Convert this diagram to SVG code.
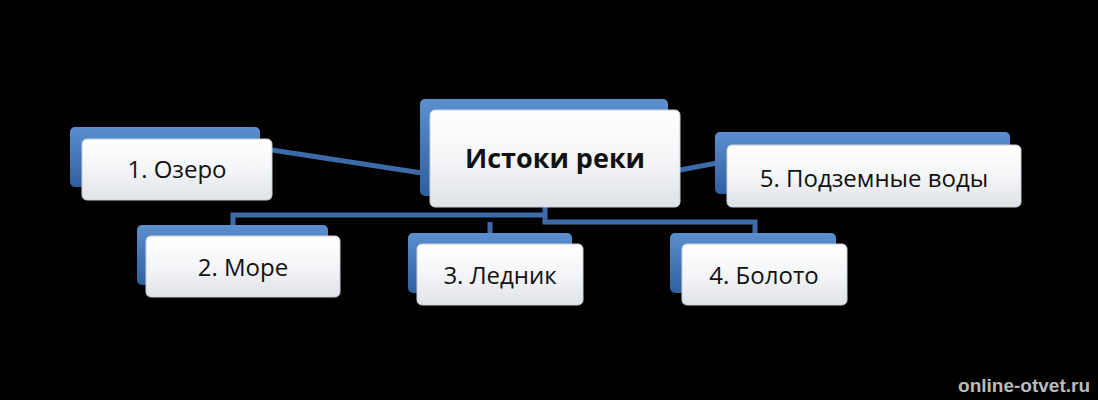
<svg xmlns="http://www.w3.org/2000/svg" width="1098" height="400" viewBox="0 0 1098 400">
<defs>
<linearGradient id="w" x1="0" y1="0" x2="0" y2="1"><stop offset="0" stop-color="#ffffff"/><stop offset="0.5" stop-color="#f4f5f7"/><stop offset="1" stop-color="#dfe2e8"/></linearGradient>
<linearGradient id="b" x1="0" y1="0" x2="0" y2="1"><stop offset="0" stop-color="#5b8fd0"/><stop offset="1" stop-color="#2f5f9e"/></linearGradient>
</defs>
<style>
.back{fill:url(#b)}
.front{fill:url(#w);stroke:#c9ced6;stroke-width:1}
.t{font-family:"Open Sans","Noto Sans",sans-serif;font-size:24px;fill:#111;text-anchor:middle}
.c{stroke:#3d6aa8;stroke-width:5;fill:none}
</style>
<rect width="1098" height="400" fill="#000"/>
<g id="connectors">
<line class="c" x1="272" y1="150" x2="422" y2="173"/>
<line class="c" x1="680" y1="170" x2="717" y2="163"/>
<polyline class="c" points="545,207 545,215 233,215 233,227"/>
<polyline class="c" points="545,215 545,222 755,222 755,235"/>
<polyline class="c" points="490,222 490,235"/>
</g>
<g id="center">
<rect class="back" x="420" y="99" width="248" height="97" rx="5"/>
<rect class="front" x="430" y="110" width="250" height="97" rx="5"/>
<text class="t" x="555" y="168" style="font-weight:bold;font-size:27px">Истоки реки</text>
</g>
<g id="n1">
<rect class="back" x="70" y="127" width="190" height="60" rx="5"/>
<rect class="front" x="82" y="139" width="190" height="61" rx="5"/>
<text class="t" x="177" y="178">1. Озеро</text>
</g>
<g id="n2">
<rect class="back" x="137" y="225" width="191" height="60" rx="5"/>
<rect class="front" x="146" y="236" width="194" height="61" rx="5"/>
<text class="t" x="243" y="276">2. Море</text>
</g>
<g id="n3">
<rect class="back" x="408" y="233" width="164" height="60" rx="5"/>
<rect class="front" x="417" y="244" width="166" height="61" rx="5"/>
<text class="t" x="500" y="284">3. Ледник</text>
</g>
<g id="n4">
<rect class="back" x="670" y="233" width="166" height="60" rx="5"/>
<rect class="front" x="682" y="244" width="165" height="61" rx="5"/>
<text class="t" x="764" y="284">4. Болото</text>
</g>
<g id="n5">
<rect class="back" x="715" y="132" width="295" height="62" rx="5"/>
<rect class="front" x="727" y="145" width="294" height="62" rx="5"/>
<text class="t" x="874" y="187">5. Подземные воды</text>
</g>
<text x="1090" y="392" style="font-family:'Liberation Sans',sans-serif;font-weight:bold;font-size:19px;fill:#bbb;text-anchor:end">online-otvet.ru</text>
</svg>
